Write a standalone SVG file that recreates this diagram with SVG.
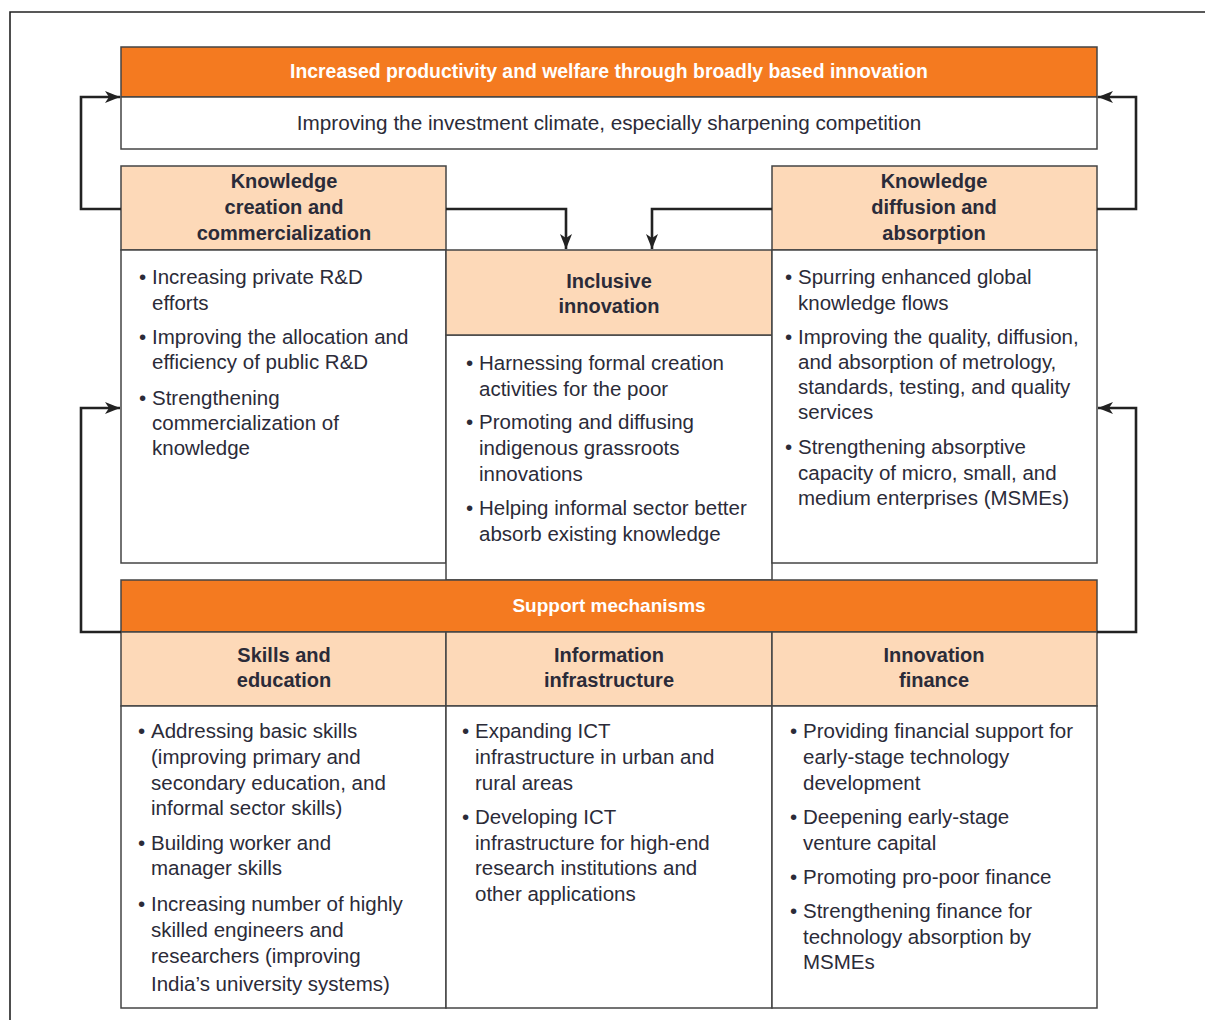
<svg xmlns="http://www.w3.org/2000/svg" width="1205" height="1020" viewBox="0 0 1205 1020">
<defs>
<style>
.frame{fill:none;stroke:#222;stroke-width:1.6}
.box{stroke:#444;stroke-width:1.5}
.or{fill:#F47A20}
.pe{fill:#FDD9B8}
.wh{fill:#fff}
.conn{fill:none;stroke:#222;stroke-width:2.6}
text{font-family:"Liberation Sans",Arial,sans-serif;fill:#2b2b38}
.hd{font-size:20px;font-weight:bold;text-anchor:middle}
.tt{font-size:19px;font-weight:bold;text-anchor:middle;fill:#fff}
.sub{font-size:20.7px;text-anchor:middle}
.b{font-size:20.5px}
</style>
<marker id="ah" markerUnits="userSpaceOnUse" markerWidth="16" markerHeight="12" refX="15" refY="6" orient="auto">
<path d="M0,0 L15,6 L0,12 L4,6 z" fill="#222"/>
</marker>
</defs>
<rect width="1205" height="1020" fill="#fff"/>
<path class="frame" d="M10,1020 V12 H1205"/>

<g id="top">
<rect class="box or" x="121" y="47" width="976" height="50"/>
<text class="tt" x="609" y="78" style="font-size:19.4px">Increased productivity and welfare through broadly based innovation</text>
<rect class="box wh" x="121" y="97" width="976" height="52"/>
<text class="sub" x="609" y="130">Improving the investment climate, especially sharpening competition</text>
</g>

<g id="creation">
<rect class="box pe" x="121" y="166" width="325" height="84"/>
<text class="hd" x="284" y="188">Knowledge</text>
<text class="hd" x="284" y="214">creation and</text>
<text class="hd" x="284" y="240">commercialization</text>
<rect class="box wh" x="121" y="250" width="325" height="313"/>
<text class="b" x="139" y="284">•</text>
<text class="b" x="152" y="284">Increasing private R&amp;D</text>
<text class="b" x="152" y="310">efforts</text>
<text class="b" x="139" y="344">•</text>
<text class="b" x="152" y="344">Improving the allocation and</text>
<text class="b" x="152" y="369">efficiency of public R&amp;D</text>
<text class="b" x="139" y="405">•</text>
<text class="b" x="152" y="405">Strengthening</text>
<text class="b" x="152" y="430">commercialization of</text>
<text class="b" x="152" y="455">knowledge</text>
</g>

<g id="inclusive">
<rect class="box wh" x="446" y="335" width="326" height="245"/>
<rect class="box pe" x="446" y="250" width="326" height="85"/>
<text class="hd" x="609" y="288">Inclusive</text>
<text class="hd" x="609" y="313">innovation</text>
<text class="b" x="466" y="370">•</text>
<text class="b" x="479" y="370">Harnessing formal creation</text>
<text class="b" x="479" y="396">activities for the poor</text>
<text class="b" x="466" y="429">•</text>
<text class="b" x="479" y="429">Promoting and diffusing</text>
<text class="b" x="479" y="455">indigenous grassroots</text>
<text class="b" x="479" y="481">innovations</text>
<text class="b" x="466" y="515">•</text>
<text class="b" x="479" y="515">Helping informal sector better</text>
<text class="b" x="479" y="541">absorb existing knowledge</text>
</g>

<g id="diffusion">
<rect class="box pe" x="772" y="166" width="325" height="84"/>
<text class="hd" x="934" y="188">Knowledge</text>
<text class="hd" x="934" y="214">diffusion and</text>
<text class="hd" x="934" y="240">absorption</text>
<rect class="box wh" x="772" y="250" width="325" height="313"/>
<text class="b" x="785" y="284">•</text>
<text class="b" x="798" y="284">Spurring enhanced global</text>
<text class="b" x="798" y="310">knowledge flows</text>
<text class="b" x="785" y="344">•</text>
<text class="b" x="798" y="344">Improving the quality, diffusion,</text>
<text class="b" x="798" y="369">and absorption of metrology,</text>
<text class="b" x="798" y="394">standards, testing, and quality</text>
<text class="b" x="798" y="419">services</text>
<text class="b" x="785" y="454">•</text>
<text class="b" x="798" y="454">Strengthening absorptive</text>
<text class="b" x="798" y="480">capacity of micro, small, and</text>
<text class="b" x="798" y="505">medium enterprises (MSMEs)</text>
</g>

<g id="support">
<rect class="box or" x="121" y="580" width="976" height="52"/>
<text class="tt" x="609" y="612">Support mechanisms</text>
</g>

<g id="skills">
<rect class="box pe" x="121" y="632" width="325" height="74"/>
<text class="hd" x="284" y="662">Skills and</text>
<text class="hd" x="284" y="687">education</text>
<rect class="box wh" x="121" y="706" width="325" height="302"/>
<text class="b" x="138" y="738">•</text>
<text class="b" x="151" y="738">Addressing basic skills</text>
<text class="b" x="151" y="764">(improving primary and</text>
<text class="b" x="151" y="790">secondary education, and</text>
<text class="b" x="151" y="815">informal sector skills)</text>
<text class="b" x="138" y="850">•</text>
<text class="b" x="151" y="850">Building worker and</text>
<text class="b" x="151" y="875">manager skills</text>
<text class="b" x="138" y="911">•</text>
<text class="b" x="151" y="911">Increasing number of highly</text>
<text class="b" x="151" y="937">skilled engineers and</text>
<text class="b" x="151" y="963">researchers (improving</text>
<text class="b" x="151" y="991">India’s university systems)</text>
</g>

<g id="info">
<rect class="box pe" x="446" y="632" width="326" height="74"/>
<text class="hd" x="609" y="662">Information</text>
<text class="hd" x="609" y="687">infrastructure</text>
<rect class="box wh" x="446" y="706" width="326" height="302"/>
<text class="b" x="462" y="738">•</text>
<text class="b" x="475" y="738">Expanding ICT</text>
<text class="b" x="475" y="764">infrastructure in urban and</text>
<text class="b" x="475" y="790">rural areas</text>
<text class="b" x="462" y="824">•</text>
<text class="b" x="475" y="824">Developing ICT</text>
<text class="b" x="475" y="850">infrastructure for high-end</text>
<text class="b" x="475" y="875">research institutions and</text>
<text class="b" x="475" y="901">other applications</text>
</g>

<g id="finance">
<rect class="box pe" x="772" y="632" width="325" height="74"/>
<text class="hd" x="934" y="662">Innovation</text>
<text class="hd" x="934" y="687">finance</text>
<rect class="box wh" x="772" y="706" width="325" height="302"/>
<text class="b" x="790" y="738">•</text>
<text class="b" x="803" y="738">Providing financial support for</text>
<text class="b" x="803" y="764">early-stage technology</text>
<text class="b" x="803" y="790">development</text>
<text class="b" x="790" y="824">•</text>
<text class="b" x="803" y="824">Deepening early-stage</text>
<text class="b" x="803" y="850">venture capital</text>
<text class="b" x="790" y="884">•</text>
<text class="b" x="803" y="884">Promoting pro-poor finance</text>
<text class="b" x="790" y="918">•</text>
<text class="b" x="803" y="918">Strengthening finance for</text>
<text class="b" x="803" y="944">technology absorption by</text>
<text class="b" x="803" y="969">MSMEs</text>
</g>

<g id="connectors">
<path class="conn" d="M121,209 H81 V97 H120" marker-end="url(#ah)"/>
<path class="conn" d="M1097,209 H1136 V97 H1098" marker-end="url(#ah)"/>
<path class="conn" d="M446,209 H566 V249" marker-end="url(#ah)"/>
<path class="conn" d="M772,209 H652 V249" marker-end="url(#ah)"/>
<path class="conn" d="M121,632 H81 V408 H120" marker-end="url(#ah)"/>
<path class="conn" d="M1097,632 H1136 V408 H1098" marker-end="url(#ah)"/>
</g>
</svg>
